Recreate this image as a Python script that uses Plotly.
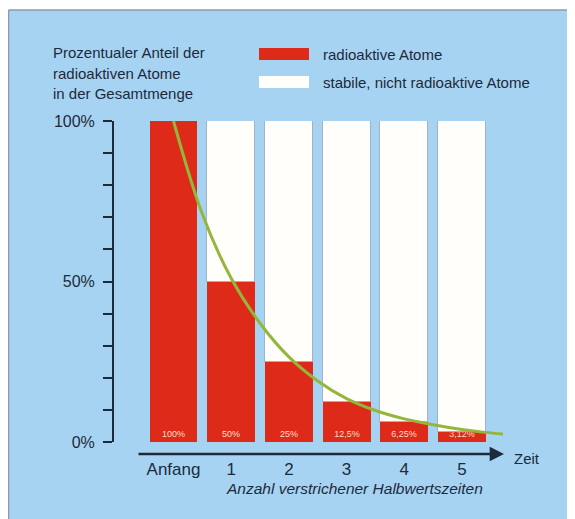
import plotly.graph_objects as go

# ---- data ----
steps = [0, 1, 2, 3, 4, 5]
step_labels = ["Anfang", "1", "2", "3", "4", "5"]
radioactive = [100, 50, 25, 12.5, 6.25, 3.125]
stable = [0, 50, 75, 87.5, 93.75, 96.875]
bar_text = ["100%", "50%", "25%", "12,5%", "6,25%", "3,12%"]
curve_t = [0, 0.5, 1, 1.5, 2, 2.5, 3, 3.5, 4, 4.5, 5, 5.4, 5.72]
curve_v = [100, 71, 51, 37, 26.5, 19, 13.5, 9.8, 7.2, 5.4, 3.9, 3.0, 2.5]
y_ticks = [0, 50, 100]
y_tick_labels = ["0%", "50%", "100%"]

FONT = "Liberation Sans, Arial, Helvetica, sans-serif"
DARK = "#1c2a3b"
RED = "#de2a19"
BLUE = "#a7d3f3"
EDGE = "#8d9ba8"

# page offset (body margin) and plot area in page pixels: x 114..503, y 121..442
OFF = 8
L, R, T, B = 114, 503, 121, 442
W, H = 575 - OFF, 519 - OFF


def px(x):
    return (x - L) / (R - L)


def py(y):
    return (B - y) / (B - T)


fig = go.Figure()
fig.add_trace(go.Bar(
    x=steps, y=radioactive, width=0.83, marker=dict(color=RED, line=dict(width=0)),
    text=bar_text, textposition="inside", insidetextanchor="start", textangle=0,
    constraintext="none",
    textfont=dict(family=FONT, size=9, color="rgba(255,232,222,0.95)"),
    name="radioaktive Atome", showlegend=False, cliponaxis=False,
))
fig.add_trace(go.Bar(
    x=steps, y=stable, width=0.83,
    marker=dict(color="#fffefa", line=dict(width=1, color="#9fb4c9")),
    name="stabile, nicht radioaktive Atome", showlegend=False,
))
fig.add_trace(go.Scatter(
    x=curve_t, y=curve_v, mode="lines", line=dict(color="#95b63c", width=3, shape="spline"),
    showlegend=False, cliponaxis=False,
))

shapes = [
    # light blue panel
    dict(type="rect", xref="paper", yref="paper", x0=px(8.5), x1=px(600), y0=py(560), y1=py(10),
         fillcolor=BLUE, line=dict(width=0), layer="below"),
    dict(type="line", xref="paper", yref="paper", x0=px(8.5), x1=px(600), y0=py(10), y1=py(10),
         line=dict(color=EDGE, width=1.5), layer="below"),
    dict(type="line", xref="paper", yref="paper", x0=px(8.5), x1=px(8.5), y0=py(10), y1=py(560),
         line=dict(color=EDGE, width=1.5), layer="below"),
    # legend swatches
    dict(type="rect", xref="paper", yref="paper", x0=px(259), x1=px(309), y0=py(60), y1=py(48),
         fillcolor=RED, line=dict(width=0)),
    dict(type="rect", xref="paper", yref="paper", x0=px(259), x1=px(309), y0=py(88), y1=py(76),
         fillcolor="#fffefa", line=dict(width=0)),
]

annotations = []
for txt, yy in [("Prozentualer Anteil der", 53), ("radioaktiven Atome", 73), ("in der Gesamtmenge", 93)]:
    annotations.append(dict(text=txt, xref="paper", yref="paper", x=px(51), y=py(yy),
                            xanchor="left", yanchor="middle", showarrow=False,
                            font=dict(family=FONT, size=15, color=DARK)))
for txt, yy in [("radioaktive Atome", 54), ("stabile, nicht radioaktive Atome", 82)]:
    annotations.append(dict(text=txt, xref="paper", yref="paper", x=px(321), y=py(yy),
                            xanchor="left", yanchor="middle", showarrow=False,
                            font=dict(family=FONT, size=15, color=DARK)))
# time arrow
annotations.append(dict(text="", xref="paper", yref="paper", x=px(504), y=py(454),
                        axref="pixel", ayref="pixel", ax=-(504 - 137), ay=0,
                        showarrow=True, arrowhead=2, arrowsize=1.1, arrowwidth=2.6, arrowcolor=DARK))
annotations.append(dict(text="Zeit", xref="paper", yref="paper", x=px(512), y=py(459),
                        xanchor="left", yanchor="middle", showarrow=False,
                        font=dict(family=FONT, size=15, color=DARK)))
annotations.append(dict(text="<i>Anzahl verstrichener Halbwertszeiten</i>", xref="paper", yref="paper",
                        x=px(354), y=py(489), xanchor="center", yanchor="middle", showarrow=False,
                        font=dict(family=FONT, size=15.5, color=DARK)))

fig.update_layout(
    width=W, height=H,
    margin=dict(l=L - OFF, r=(W + OFF) - R, t=T - OFF, b=(H + OFF) - B, pad=0),
    paper_bgcolor="white", plot_bgcolor="rgba(0,0,0,0)",
    barmode="stack", bargap=0,
    shapes=shapes, annotations=annotations,
    font=dict(family=FONT, color=DARK),
    xaxis=dict(range=[-1.031, 5.711], tickvals=steps, ticktext=step_labels, ticks="",
               showline=False, showgrid=False, zeroline=False, ticklabelstandoff=15,
               tickfont=dict(family=FONT, size=17, color=DARK), fixedrange=True),
    yaxis=dict(range=[0, 100], tickvals=y_ticks, ticktext=y_tick_labels, ticks="outside",
               ticklen=9, tickwidth=2, tickcolor=DARK, showline=True, linecolor=DARK, linewidth=2,
               showgrid=False, zeroline=False, ticklabelstandoff=5,
               minor=dict(dtick=10, ticks="outside", ticklen=9, tickwidth=2, tickcolor=DARK, showgrid=False),
               tickfont=dict(family=FONT, size=16, color=DARK), fixedrange=True),
)

fig.write_html("out.html")
